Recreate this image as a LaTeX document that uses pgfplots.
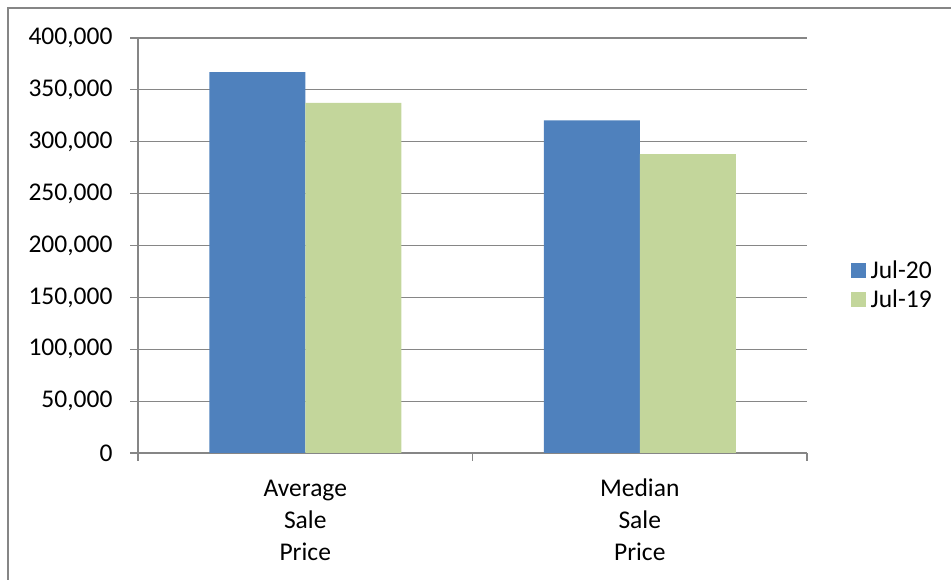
\documentclass[border=0pt]{standalone}
\usepackage{pgfplots}
\pgfplotsset{compat=1.18}
\usepackage{fontspec}
\setmainfont{Carlito}
\definecolor{bblue}{HTML}{4F81BD}
\definecolor{bgreen}{HTML}{C3D69B}
\definecolor{gridgray}{HTML}{868686}
\begin{document}
\begin{tikzpicture}[x=1bp,y=1bp]
\useasboundingbox (0,0) rectangle (951,580);
\draw[gridgray, line width=1.5bp] (8,0) -- (8,572) -- (951,572);
\begin{axis}[
  at={(138bp,127bp)}, anchor=south west,
  scale only axis, width=669bp, height=415bp,
  xmin=-0.5, xmax=1.5, ymin=0, ymax=400000,
  ytick distance=50000,
  scaled y ticks=false,
  ybar=0pt, bar width=96bp,
  axis x line*=bottom, axis y line*=left,
  axis line style={gridgray, line width=1.2bp},
  ymajorgrids, grid style={gridgray, line width=1.2bp},
  tick align=outside, major tick length=8bp,
  tick style={gridgray, line width=1.2bp},
  xtick={-0.5,0.5,1.5}, xticklabels={},
  extra x ticks={0,1},
  extra x tick labels={{\strut Average\\Sale\\Price},{\strut Median\\Sale\\Price}},
  extra x tick style={major tick length=0pt, grid=none},
  xticklabel style={align=center, yshift=-18bp},
  yticklabel style={xshift=-14bp},
  ticklabel style={font=\fontsize{25.6}{32.1}\selectfont, text=black},
  yticklabel style={/pgf/number format/fixed, /pgf/number format/1000 sep={,}, /pgf/number format/assume math mode=true},
  legend style={draw=none, at={(1.065,0.405)}, anchor=west, font=\fontsize{25.6}{32.1}\selectfont, row sep=6bp, inner sep=0pt, nodes={inner xsep=5bp}},
  legend cell align=left,
  legend image code/.code={\path[#1,draw=none] (2bp,-7.5bp) rectangle (17bp,7.5bp);},
]
\addplot[fill=bblue, draw=none] coordinates {(0,367000) (1,320500)};
\addplot[fill=bgreen, draw=none] coordinates {(0,337500) (1,288000)};
\legend{Jul-20,Jul-19}
\end{axis}
\end{tikzpicture}
\end{document}
